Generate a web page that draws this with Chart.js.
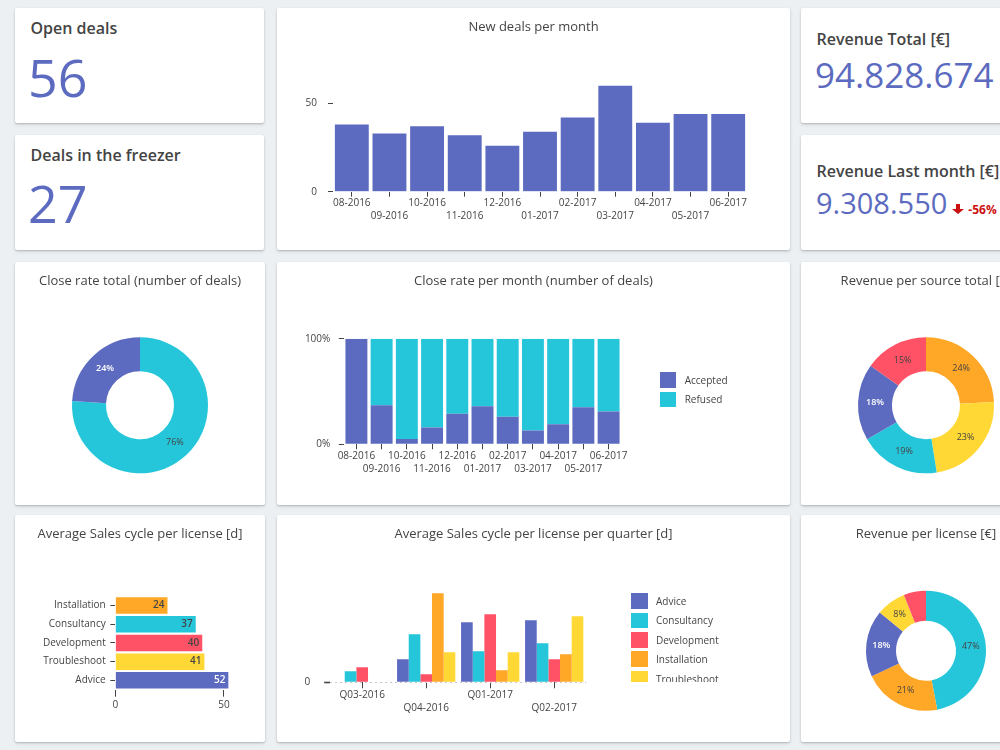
<!DOCTYPE html>
<html>
<head>
<meta charset="utf-8">
<script src="https://cdn.jsdelivr.net/npm/chart.js@4.4.1/dist/chart.umd.min.js"></script>
<style>
html,body{margin:0;padding:0;width:1000px;height:750px;overflow:hidden;background:#ecf0f3;font-family:'Open Sans',sans-serif;}
.card{position:absolute;background:#fff;border-radius:2px;box-shadow:0 1px 2px rgba(0,0,0,0.20),0 2px 4px rgba(0,0,0,0.07);overflow:hidden;}
.card canvas{position:absolute;left:0;top:0;}
.kl{position:absolute;font-size:16px;font-weight:600;color:#444;line-height:1;white-space:nowrap;}
.kv{position:absolute;color:#5C6BC0;line-height:1;white-space:nowrap;}
.legend{position:absolute;overflow:hidden;font-size:10px;color:#444;line-height:1;}
.li{display:flex;align-items:center;height:19.4px;white-space:nowrap;}
.lb{display:inline-block;width:16.5px;height:15.5px;margin-right:8.5px;flex:none;}
</style>
</head>
<body>

<div class="card" style="left:15px;top:8px;width:249px;height:115px">
  <div class="kl" style="left:15.5px;top:11.5px">Open deals</div>
  <div class="kv" id="kOpen" style="left:13px;top:42.5px;font-size:52px"></div>
</div>
<div class="card" style="left:15px;top:135px;width:249px;height:115px">
  <div class="kl" style="left:15.5px;top:11.8px">Deals in the freezer</div>
  <div class="kv" id="kFreezer" style="left:13px;top:42.1px;font-size:52px"></div>
</div>
<div class="card" style="left:277px;top:8px;width:513px;height:242px"><canvas id="cNew"></canvas></div>
<div class="card" style="left:801px;top:8px;width:250px;height:115px">
  <div class="kl" style="left:15.5px;top:22.5px">Revenue Total [€]</div>
  <div class="kv" id="kRevTotal" style="left:14px;top:49.2px;font-size:35px"></div>
</div>
<div class="card" style="left:801px;top:135px;width:250px;height:115px">
  <div class="kl" style="left:15.5px;top:27.8px">Revenue Last month [€]</div>
  <div class="kv" style="left:15px;top:52.5px;font-size:29px"><span id="kRevLast"></span><span style="color:#cc1111;font-size:12px;font-weight:700;margin-left:5px"><svg width="12" height="10" viewBox="0 0 12 10" style="margin-right:4px"><path d="M4 0h4v5h4L6 10 0 5h4z" fill="#cc1111"/></svg><span id="kChange"></span></span></div>
</div>

<div class="card" style="left:15px;top:262px;width:250px;height:243px"><canvas id="cCloseTotal"></canvas></div>
<div class="card" style="left:277px;top:262px;width:513px;height:243px"><canvas id="cCloseMonth"></canvas>
  <div class="legend" id="legClose" style="left:382.7px;top:108.3px;width:110px;height:45px"></div>
</div>
<div class="card" style="left:801px;top:262px;width:250px;height:243px"><canvas id="cSource"></canvas></div>

<div class="card" style="left:15px;top:515px;width:250px;height:227px"><canvas id="cCycle"></canvas></div>
<div class="card" style="left:277px;top:515px;width:513px;height:227px"><canvas id="cCycleQ"></canvas>
  <div class="legend" id="legCycle" style="left:354px;top:76.3px;width:120px;height:91px"></div>
</div>
<div class="card" style="left:801px;top:515px;width:250px;height:227px"><canvas id="cLicense"></canvas></div>

<script>
// ---------------- DATA ----------------
const openDeals = 56;
const freezerDeals = 27;
const revenueTotal = '94.828.674';
const revenueLastMonth = '9.308.550';
const revenueChange = '-56%';

const months = ['08-2016','09-2016','10-2016','11-2016','12-2016','01-2017','02-2017','03-2017','04-2017','05-2017','06-2017'];
const newDeals = [38, 33, 37, 32, 26, 34, 42, 60, 39, 44, 44];
const newDealsTicks = [0, 50];

const acceptedPct = [100, 37, 5, 16, 29, 36, 26, 13, 19, 35, 31];
const refusedPct  = [0, 63, 95, 84, 71, 64, 74, 87, 81, 65, 69];
const closeRateTicks = [0, 100];

const closeTotalLabels = ['Refused', 'Accepted'];
const closeTotalValues = [76, 24];

const sourceLabels = ['Source 1', 'Source 2', 'Source 3', 'Source 4', 'Source 5'];
const sourceValues = [24, 23, 19, 18, 15];

const cycleLicenses = ['Installation', 'Consultancy', 'Development', 'Troubleshoot', 'Advice'];
const cycleDays = [24, 37, 40, 41, 52];
const cycleTicks = [0, 50];

const quarters = ['Q03-2016', 'Q04-2016', 'Q01-2017', 'Q02-2017'];
const licenseNames = ['Advice', 'Consultancy', 'Development', 'Installation', 'Troubleshoot'];
const adviceQ       = [null, 23, 60, 62];
const consultancyQ  = [11, 48, 31, 39];
const developmentQ  = [15, 8, 68, 23];
const installationQ = [null, 89, 12, 28];
const troubleshootQ = [null, 30, 30, 66];
const cycleQTicks = [0];

const licenseRevLabels = ['Consultancy', 'Installation', 'Advice', 'Troubleshoot', 'Development'];
const licenseRevValues = [47, 21, 18, 8, 6];

// ---------------- STYLE ----------------
const INDIGO = '#5C6BC0', CYAN = '#26C6DA', RED = '#FF5266', ORANGE = '#FFA726', YELLOW = '#FFD835';
const licenseColor = {Advice: INDIGO, Consultancy: CYAN, Development: RED, Installation: ORANGE, Troubleshoot: YELLOW};
const sourceColors = [ORANGE, YELLOW, CYAN, INDIGO, RED];
const TXT = '#444';

Chart.defaults.font.family = "'Open Sans', sans-serif";
Chart.defaults.color = TXT;

document.getElementById('kOpen').textContent = openDeals;
document.getElementById('kFreezer').textContent = freezerDeals;
document.getElementById('kRevTotal').textContent = revenueTotal;
document.getElementById('kRevLast').textContent = revenueLastMonth;
document.getElementById('kChange').textContent = revenueChange;

const tf = {size: 10, lineHeight: 1.3};
const title = (text, bottom) => ({display: true, text, color: TXT, font: {size: 13, weight: 'normal', lineHeight: 1.2}, padding: {top: 11, bottom}});
function stagger(value, index) { const l = this.getLabelForValue(value); return index % 2 ? ['', l] : l; }
const fixTicks = arr => (s => { s.ticks = arr.map(v => ({value: v})); });
// invisible right-hand spacer axis so the title stays centred on the whole card
const spacer = w => ({axis: 'y', type: 'linear', position: 'right', display: true, grid: {display: false, drawTicks: false}, border: {display: false}, ticks: {display: false}, afterFit: s => { s.width = w; }});

function mk(id, w, h, cfg) {
  const c = document.getElementById(id);
  c.width = w; c.height = h; c.style.width = w + 'px'; c.style.height = h + 'px';
  cfg.options = Object.assign({responsive: false, animation: false, devicePixelRatio: 1}, cfg.options);
  return new Chart(c, cfg);
}

function sliceLabels() {
  return {
    id: 'sliceLabels',
    afterDatasetsDraw(chart) {
      const ctx = chart.ctx, ds = chart.data.datasets[0], meta = chart.getDatasetMeta(0);
      const total = ds.data.reduce((a, b) => a + b, 0);
      meta.data.forEach((arc, i) => {
        const pct = ds.data[i] / total * 100;
        if (pct < 7) return;
        const p = arc.tooltipPosition();
        const light = ds.backgroundColor[i] === INDIGO;
        ctx.save();
        ctx.font = (light ? '600 ' : '') + "9px 'Open Sans', sans-serif";
        ctx.fillStyle = light ? '#fff' : TXT;
        ctx.textAlign = 'center'; ctx.textBaseline = 'middle';
        ctx.fillText(Math.round(pct) + '%', p.x, p.y);
        ctx.restore();
      });
    }
  };
}

function buildLegend(id, names, colors) {
  const el = document.getElementById(id);
  names.forEach((n, i) => {
    const d = document.createElement('div'); d.className = 'li';
    const b = document.createElement('span'); b.className = 'lb'; b.style.background = colors[i];
    const t = document.createElement('span'); t.textContent = n;
    d.appendChild(b); d.appendChild(t); el.appendChild(d);
  });
}

// ---------------- New deals per month ----------------
mk('cNew', 513, 242, {
  type: 'bar',
  data: {labels: months, datasets: [{label: 'New deals', data: newDeals, backgroundColor: INDIGO, barPercentage: 0.9, categoryPercentage: 1}]},
  options: {
    layout: {padding: {top: 0, left: 0, right: 0, bottom: 18.3}},
    plugins: {legend: {display: false}, tooltip: {enabled: false}, title: title('New deals per month', 45.8)},
    scales: {
      x: {afterFit: s => { s.height = 40; }, grid: {offset: false, drawOnChartArea: false, tickLength: 5, tickColor: TXT}, border: {display: false},
          ticks: {autoSkip: false, maxRotation: 0, minRotation: 0, padding: 0, color: TXT, font: tf, callback: stagger}},
      y: {min: 0, max: 63, afterBuildTicks: fixTicks(newDealsTicks), afterFit: s => { s.width = 56; },
          grid: {drawOnChartArea: false, tickLength: 5, tickColor: TXT}, border: {display: false},
          ticks: {padding: 11, color: TXT, font: tf}},
      padR: spacer(43)
    }
  }
});

// ---------------- Close rate total ----------------
mk('cCloseTotal', 250, 243, {
  type: 'doughnut',
  data: {labels: closeTotalLabels, datasets: [{data: closeTotalValues, backgroundColor: [CYAN, INDIGO], borderWidth: 0}]},
  options: {
    cutout: '50%',
    layout: {padding: {top: 0, left: 0, right: 0, bottom: 31.7}},
    plugins: {legend: {display: false}, tooltip: {enabled: false}, title: title('Close rate total (number of deals)', 48.7)}
  },
  plugins: [sliceLabels()]
});

// ---------------- Close rate per month ----------------
mk('cCloseMonth', 513, 243, {
  type: 'bar',
  data: {labels: months, datasets: [
    {label: 'Accepted', data: acceptedPct, backgroundColor: INDIGO, barPercentage: 0.87, categoryPercentage: 1},
    {label: 'Refused', data: refusedPct, backgroundColor: CYAN, barPercentage: 0.87, categoryPercentage: 1}
  ]},
  options: {
    layout: {padding: {top: 0, left: 0, right: 0, bottom: 20.7}},
    plugins: {legend: {display: false}, tooltip: {enabled: false}, title: title('Close rate per month (number of deals)', 50.1)},
    scales: {
      x: {stacked: true, afterFit: s => { s.height = 40; }, grid: {offset: false, drawOnChartArea: false, tickLength: 5, tickColor: TXT}, border: {display: false},
          ticks: {autoSkip: false, maxRotation: 0, minRotation: 0, padding: 0, color: TXT, font: tf, callback: stagger}},
      y: {stacked: true, min: 0, max: 100, afterBuildTicks: fixTicks(closeRateTicks), afterFit: s => { s.width = 66.8; },
          grid: {drawOnChartArea: false, tickLength: 5, tickColor: TXT}, border: {display: false},
          ticks: {padding: 8.5, color: TXT, font: tf, callback: v => v + '%'}},
      padR: spacer(168.8)
    }
  }
});
buildLegend('legClose', ['Accepted', 'Refused'], [INDIGO, CYAN]);

// ---------------- Revenue per source total ----------------
mk('cSource', 250, 243, {
  type: 'doughnut',
  data: {labels: sourceLabels, datasets: [{data: sourceValues, backgroundColor: sourceColors, borderWidth: 0}]},
  options: {
    cutout: '50%',
    layout: {padding: {top: 0, left: 0, right: 0, bottom: 31.7}},
    plugins: {legend: {display: false}, tooltip: {enabled: false}, title: title('Revenue per source total [€]', 48.7)}
  },
  plugins: [sliceLabels()]
});

// ---------------- Average sales cycle per license ----------------
mk('cCycle', 250, 227, {
  type: 'bar',
  data: {labels: cycleLicenses, datasets: [{data: cycleDays, backgroundColor: cycleLicenses.map(n => licenseColor[n]), barPercentage: 0.88, categoryPercentage: 1}]},
  options: {
    indexAxis: 'y',
    layout: {padding: {top: 0, left: 0, right: 0, bottom: 22.3}},
    plugins: {legend: {display: false}, tooltip: {enabled: false}, title: title('Average Sales cycle per license [d]', 54.6)},
    scales: {
      x: {min: 0, max: 54.6, afterBuildTicks: fixTicks(cycleTicks), afterFit: s => { s.height = 30; },
          grid: {drawOnChartArea: false, tickLength: 7, tickColor: TXT}, border: {display: false},
          ticks: {padding: 2.3, color: TXT, font: tf}},
      y: {afterFit: s => { s.width = 100.3; }, grid: {offset: false, drawOnChartArea: false, tickLength: 5, tickColor: TXT}, border: {display: false},
          ticks: {autoSkip: false, padding: 4.6, color: TXT, font: tf}},
      padR: spacer(31)
    }
  },
  plugins: [{
    id: 'barValues',
    afterDatasetsDraw(chart) {
      const ctx = chart.ctx, ds = chart.data.datasets[0];
      chart.getDatasetMeta(0).data.forEach((bar, i) => {
        const light = ds.backgroundColor[i] === INDIGO;
        ctx.save();
        ctx.font = "600 10px 'Open Sans', sans-serif";
        ctx.fillStyle = light ? '#fff' : TXT;
        ctx.textAlign = 'right'; ctx.textBaseline = 'middle';
        ctx.fillText(String(ds.data[i]), bar.x - 3, bar.y);
        ctx.restore();
      });
    }
  }]
});

// ---------------- Average sales cycle per license per quarter ----------------
const qSeries = [adviceQ, consultancyQ, developmentQ, installationQ, troubleshootQ];
mk('cCycleQ', 513, 227, {
  type: 'bar',
  data: {labels: quarters, datasets: licenseNames.map((n, i) => ({label: n, data: qSeries[i], backgroundColor: licenseColor[n], barPercentage: 1, categoryPercentage: 0.91}))},
  options: {
    layout: {padding: {top: 0, left: 0, right: 0, bottom: 19.7}},
    plugins: {legend: {display: false}, tooltip: {enabled: false}, title: title('Average Sales cycle per license per quarter [d]', 45.7)},
    scales: {
      x: {afterFit: s => { s.height = 40; }, grid: {offset: false, drawOnChartArea: false, tickLength: 6, tickColor: TXT}, border: {display: false},
          ticks: {autoSkip: false, maxRotation: 0, minRotation: 0, padding: 0, color: TXT, font: tf, callback: stagger}},
      y: {min: 0, max: 95, afterBuildTicks: fixTicks(cycleQTicks), afterFit: s => { s.width = 53.2; },
          grid: {drawOnChartArea: true, color: '#c8c8c8', tickLength: 6, tickColor: TXT, tickWidth: 1.6}, border: {display: false, dash: [2, 3]},
          ticks: {padding: 13.9, color: TXT, font: tf}},
      padR: spacer(203.8)
    }
  }
});
buildLegend('legCycle', licenseNames, licenseNames.map(n => licenseColor[n]));

// ---------------- Revenue per license ----------------
mk('cLicense', 250, 227, {
  type: 'doughnut',
  data: {labels: licenseRevLabels, datasets: [{data: licenseRevValues, backgroundColor: licenseRevLabels.map(n => licenseColor[n]), borderWidth: 0}]},
  options: {
    cutout: '50%',
    layout: {padding: {top: 0, left: 0, right: 0, bottom: 31.3}},
    plugins: {legend: {display: false}, tooltip: {enabled: false}, title: title('Revenue per license [€]', 49.1)}
  },
  plugins: [sliceLabels()]
});
</script>
</body>
</html>
